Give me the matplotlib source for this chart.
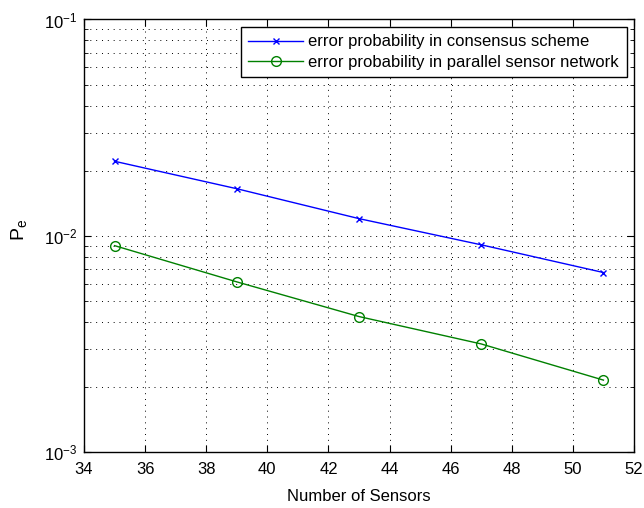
import matplotlib
matplotlib.use("Agg")
import matplotlib.pyplot as plt
from matplotlib.ticker import LogLocator, FixedLocator

plt.rcParams['font.family'] = ['Liberation Sans', 'DejaVu Sans']
plt.rcParams['mathtext.fontset'] = 'custom'
plt.rcParams['mathtext.rm'] = 'Liberation Sans'
plt.rcParams['mathtext.it'] = 'Liberation Sans'

sensors = [35, 39, 43, 47, 51]
pe_consensus = [0.0221, 0.0165, 0.0120, 0.00908, 0.00676]
pe_parallel = [0.0090, 0.00612, 0.00423, 0.00316, 0.00215]
labels = ['error probability in consensus scheme',
          'error probability in parallel sensor network']
xticks = [34, 36, 38, 40, 42, 44, 46, 48, 50, 52]

fig = plt.figure(figsize=(6.44, 5.08), dpi=100)
ax = fig.add_axes([84/644, 1-452/508, (634-84)/644, (452-19.5)/508])

ax.plot(sensors, pe_consensus, color='#0000ff', marker='x', lw=1.0, ms=5, mew=1.0, label=labels[0])
ax.plot(sensors, pe_parallel, color='#008000', marker='o', lw=1.0, ms=7, mew=1.0,
        mfc='none', label=labels[1])

ax.set_yscale('log')
ax.set_xlim(34, 52)
ax.set_ylim(1e-3, 1e-1)
ax.xaxis.set_major_locator(FixedLocator(xticks))
ax.yaxis.set_major_locator(LogLocator(base=10, numticks=10))
ax.yaxis.set_minor_locator(LogLocator(base=10, subs=range(2, 10), numticks=10))

grid_style = dict(linestyle=(0, (1, 5)), color='black', lw=0.7)
ax.grid(True, which='major', **grid_style)
ax.grid(True, which='minor', axis='y', **grid_style)

ax.tick_params(which='both', direction='in', top=True, right=True, labelsize=12)
ax.tick_params(axis='x', which='major', pad=7)
ax.tick_params(axis='y', which='major', pad=5)
ax.tick_params(which='major', length=5)
ax.tick_params(which='minor', length=3)
for s in ax.spines.values():
    s.set_linewidth(1.0)

ax.set_xlabel('Number of Sensors', fontsize=12)
ax.xaxis.set_label_coords(0.5, (452-489)/432.5)
ax.set_ylabel(r'$\mathrm{P_e}$', fontsize=14)
ax.yaxis.set_label_coords((29-84)/550, (452-230)/432.5)

leg = ax.legend(loc='upper right', fontsize=12, frameon=True, fancybox=False,
                edgecolor='black', framealpha=1, borderpad=0.45, handlelength=3.3,
                handletextpad=0.3, labelspacing=0.32, borderaxespad=0.45)
leg.get_frame().set_linewidth(1.0)

fig.savefig('out.png', dpi=100)
